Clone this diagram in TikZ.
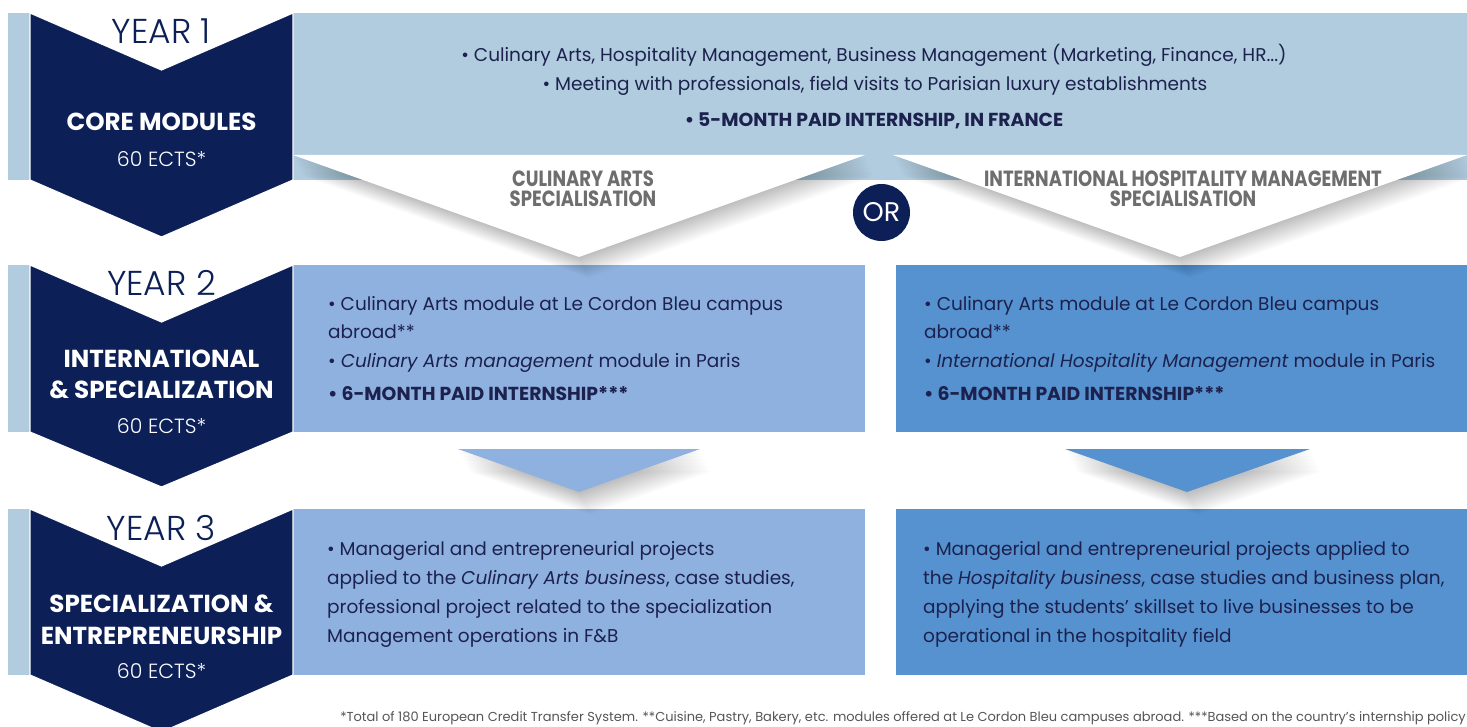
\documentclass[tikz,border=0pt]{standalone}
\usepackage{fontspec}
\setmainfont{Poppins}
\newfontfamily\lightf{Poppins Light}
\newfontfamily\condf{Poppins}[FakeStretch=0.82]
\definecolor{navy}{RGB}{12,31,86}
\definecolor{lband}{RGB}{176,204,222}
\definecolor{mblue}{RGB}{143,177,223}
\definecolor{dblue}{RGB}{85,146,207}
\definecolor{txt}{RGB}{28,33,78}
\definecolor{greyt}{RGB}{110,110,110}
\definecolor{foot}{RGB}{85,85,85}
\tikzset{
  body/.style={anchor=base west, inner sep=0pt, text=txt, font=\fontsize{18.5}{18.5}\selectfont},
  bodyc/.style={body, anchor=base},
  bodyb/.style={anchor=base west, inner sep=0pt, text=txt, font=\fontsize{18.8}{18.8}\selectfont\bfseries},
  yearlbl/.style={anchor=base, inner sep=0pt, text=navy, font=\lightf\fontsize{34.5}{34.5}\selectfont},
  titlelbl/.style={anchor=base, inner sep=0pt, text=white, font=\fontsize{24.6}{24.6}\selectfont\bfseries},
  ects/.style={anchor=base, inner sep=0pt, text=white, font=\lightf\fontsize{20.5}{20.5}\selectfont},
  spec/.style={anchor=base, inner sep=0pt, text=greyt, font=\condf\bfseries\fontsize{22}{22}\selectfont},
  chev/.style={fill=navy, draw=white, line width=1.2pt, line join=miter},
  shade/.style={fill=black, opacity=0.016},
}
\begin{document}
\begin{tikzpicture}[x=1pt,y=-1pt]
\useasboundingbox (0,0) rectangle (1467,727);
\fill[white] (0,0) rectangle (1467,727);
% left strips
\fill[lband] (8,13) rectangle (30,180);
\fill[lband] (8,265) rectangle (30,432);
\fill[lband] (8,509) rectangle (30,675);
% top band
\fill[lband] (293,13) rectangle (1467,180);
% row boxes
\fill[mblue] (293,265) rectangle (865,432);
\fill[dblue] (896,265) rectangle (1467,432);
\fill[mblue] (293,509) rectangle (865,675);
\fill[dblue] (896,509) rectangle (1467,675);
% shadows of white chevrons and small arrows
\foreach \i in {1,...,16}{
  \fill[shade] (293+0.6*\i,155+1.3*\i) -- (865+0.6*\i,155+1.3*\i) -- (579+0.6*\i,257+1.3*\i) -- cycle;
  \fill[shade] (893+0.6*\i,155+1.3*\i) -- (1467+0.6*\i,155+1.3*\i) -- (1180+0.6*\i,257+1.3*\i) -- cycle;
  \fill[shade] (458+0.7*\i,449+1.4*\i) -- (700+0.7*\i,449+1.4*\i) -- (579+0.7*\i,492+1.4*\i) -- cycle;
  \fill[shade] (1065+0.7*\i,449+1.4*\i) -- (1310+0.7*\i,449+1.4*\i) -- (1187+0.7*\i,492+1.4*\i) -- cycle;
}
% white chevrons
\fill[white] (293,155) -- (865,155) -- (579,257) -- cycle;
\fill[white] (893,155) -- (1467,155) -- (1180,257) -- cycle;
% small arrows
\fill[mblue] (458,449) -- (700,449) -- (579,492) -- cycle;
\fill[dblue] (1065,449) -- (1310,449) -- (1187,492) -- cycle;
% navy chevrons
\path[chev] (30,13) -- (161.5,70) -- (293,13) -- (293,180) -- (161.5,237) -- (30,180) -- cycle;
\path[chev] (30,265) -- (161.5,322) -- (293,265) -- (293,432) -- (161.5,487) -- (30,432) -- cycle;
\path[chev] (30,509) -- (161.5,566) -- (293,509) -- (293,675) -- (161.5,732) -- (30,675) -- cycle;
% OR circle
\node[circle, fill=navy, minimum size=57pt, inner sep=0pt, text=white, font=\fontsize{27}{27}\selectfont] (or) at (881.5,212.5) {OR};
% chevron labels
\node[yearlbl] (y1) at (161.5,44) {YEAR 1};
\node[titlelbl] (t1) at (161.5,131) {CORE MODULES};
\node[ects] (e1) at (161.5,167) {60 ECTS*};
\node[yearlbl] (y2) at (161.5,296) {YEAR 2};
\node[titlelbl] (t2a) at (161.5,367) {INTERNATIONAL};
\node[titlelbl] (t2b) at (161.5,398) {\&~SPECIALIZATION};
\node[ects] (e2) at (161.5,433) {60 ECTS*};
\node[yearlbl] (y3) at (161.5,540) {YEAR 3};
\node[titlelbl] (t3a) at (161.5,612) {SPECIALIZATION \&};
\node[titlelbl] (t3b) at (161.5,644) {ENTREPRENEURSHIP};
\node[ects] (e3) at (161.5,678) {60 ECTS*};
% top band text
\node[bodyc] (b1) at (874,62) {• Culinary Arts, Hospitality Management, Business Management (Marketing, Finance, HR...)};
\node[bodyc] (b2) at (875,91) {• Meeting with professionals, field visits to Parisian luxury establishments};
\node[bodyb, anchor=base] (b3) at (874,127) {• 5-MONTH PAID INTERNSHIP, IN FRANCE};
% specialisation headers
\node[spec] (s1a) at (583,187) {CULINARY ARTS};
\node[spec] (s1b) at (583,207) {SPECIALISATION};
\node[spec] (s2a) at (1183,187) {INTERNATIONAL HOSPITALITY MANAGEMENT};
\node[spec] (s2b) at (1183,207) {SPECIALISATION};
% row 2 left
\node[body] (l2a) at (328,310) {• Culinary Arts module at Le Cordon Bleu campus};
\node[body] (l2b) at (328,338) {abroad**};
\node[body] (l2c) at (328,367) {• \textit{Culinary Arts management} module in Paris};
\node[bodyb] (l2d) at (328,400) {• 6-MONTH PAID INTERNSHIP***};
% row 2 right
\node[body] (r2a) at (924,310) {• Culinary Arts module at Le Cordon Bleu campus};
\node[body] (r2b) at (924,338) {abroad**};
\node[body] (r2c) at (924,367) {• \textit{International Hospitality Management} module in Paris};
\node[bodyb] (r2d) at (924,400) {• 6-MONTH PAID INTERNSHIP***};
% row 3 left
\node[body] (l3a) at (327,555) {• Managerial and entrepreneurial projects};
\node[body] (l3b) at (327,584) {applied to the \textit{Culinary Arts business}, case studies,};
\node[body] (l3c) at (327,613) {professional project related to the specialization};
\node[body] (l3d) at (327,642) {Management operations in F\&B};
% row 3 right
\node[body] (r3a) at (923,555) {• Managerial and entrepreneurial projects applied to};
\node[body] (r3b) at (923,584) {the \textit{Hospitality business}, case studies and business plan,};
\node[body] (r3c) at (923,613) {applying the students’ skillset to live businesses to be};
\node[body] (r3d) at (923,642) {operational in the hospitality field};
% footnote
\node[anchor=base east, inner sep=0pt, text=foot, font=\fontsize{13}{13}\selectfont] (fn) at (1466,721) {*Total of 180 European Credit Transfer System. **Cuisine, Pastry, Bakery, etc. modules offered at Le Cordon Bleu campuses abroad. ***Based on the country’s internship policy};
\end{tikzpicture}
\end{document}
